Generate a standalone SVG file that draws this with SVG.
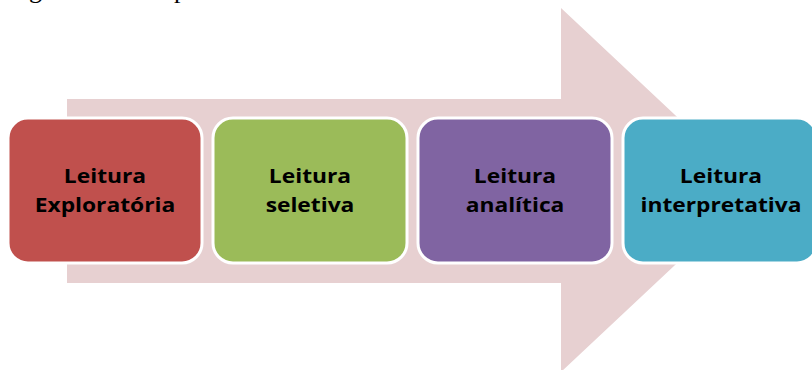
<svg xmlns="http://www.w3.org/2000/svg" width="812" height="370" viewBox="0 0 812 370">
<style>
.box{stroke:#FFFFFF;stroke-width:3}
.lbl{font-family:"Open Sans","Liberation Sans",sans-serif;font-weight:bold;font-size:19px;fill:#000000;text-anchor:middle}
.cap{font-family:"Liberation Serif",serif;font-size:26px;fill:#000000}
</style>
<rect width="812" height="370" fill="#FFFFFF"/>
<text class="cap" y="-2"><tspan x="29">g</tspan><tspan x="174">p</tspan></text>
<g id="arrow">
<polygon points="67,99 561,99 561,8 755,190 561,372 561,283 67,283" fill="#E7D0D1"/>
</g>
<g id="connectors"></g>
<g id="n1">
<rect class="box" x="8" y="118" width="194" height="145" rx="20" fill="#C0504D"/>
<g transform="translate(105,0) scale(1.2,1)">
<text class="lbl" x="0" y="183">Leitura</text>
<text class="lbl" x="0" y="212">Exploratória</text>
</g>
</g>
<g id="n2">
<rect class="box" x="213" y="118" width="194" height="145" rx="20" fill="#9BBB59"/>
<g transform="translate(310,0) scale(1.2,1)">
<text class="lbl" x="0" y="183">Leitura</text>
<text class="lbl" x="0" y="212">seletiva</text>
</g>
</g>
<g id="n3">
<rect class="box" x="418" y="118" width="194" height="145" rx="20" fill="#8064A2"/>
<g transform="translate(515,0) scale(1.2,1)">
<text class="lbl" x="0" y="183">Leitura</text>
<text class="lbl" x="0" y="212">analítica</text>
</g>
</g>
<g id="n4">
<rect class="box" x="623" y="118" width="194" height="145" rx="20" fill="#4BACC6"/>
<g transform="translate(721,0) scale(1.2,1)">
<text class="lbl" x="0" y="183">Leitura</text>
<text class="lbl" x="0" y="212">interpretativa</text>
</g>
</g>
</svg>
